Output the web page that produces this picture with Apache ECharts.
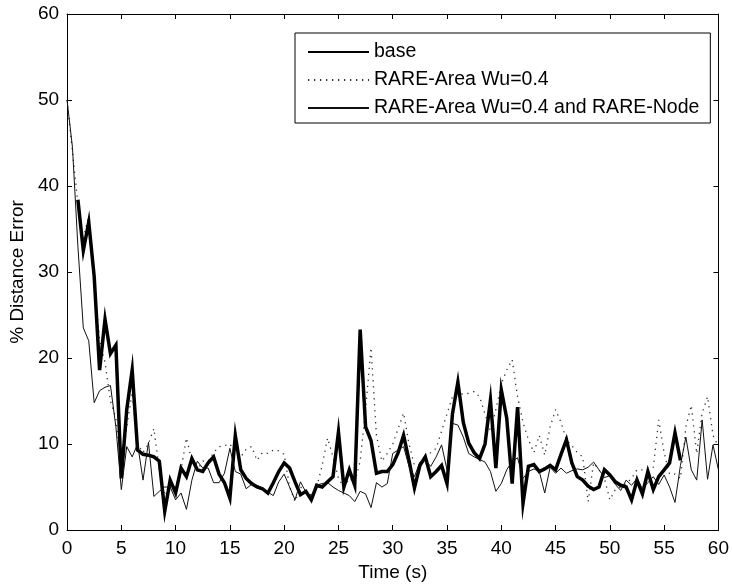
<!DOCTYPE html>
<html>
<head>
<meta charset="utf-8">
<script src="https://cdn.jsdelivr.net/npm/echarts@6/dist/echarts.min.js"></script>
<style>
  html, body { margin: 0; padding: 0; background: #fff; }
  #chart { width: 732px; height: 587px; }
</style>
</head>
<body>
<div id="chart"></div>
<script>
// Sample times (s)
const time = [
  0, 0.5, 1, 1.5, 2, 2.5, 3, 3.5, 4, 4.5,
  5, 5.5, 6, 6.5, 7, 7.5, 8, 8.5, 9, 9.5,
  10, 10.5, 11, 11.5, 12, 12.5, 13, 13.5, 14, 14.5,
  15, 15.5, 16, 16.5, 17, 17.5, 18, 18.5, 19, 19.5,
  20, 20.5, 21, 21.5, 22, 22.5, 23, 23.5, 24, 24.5,
  25, 25.5, 26, 26.5, 27, 27.5, 28, 28.5, 29, 29.5,
  30, 30.5, 31, 31.5, 32, 32.5, 33, 33.5, 34, 34.5,
  35, 35.5, 36, 36.5, 37, 37.5, 38, 38.5, 39, 39.5,
  40, 40.5, 41, 41.5, 42, 42.5, 43, 43.5, 44, 44.5,
  45, 45.5, 46, 46.5, 47, 47.5, 48, 48.5, 49, 49.5,
  50, 50.5, 51, 51.5, 52, 52.5, 53, 53.5, 54, 54.5,
  55, 55.5, 56, 56.5, 57, 57.5, 58, 58.5, 59, 59.5,
  60
];

// % distance error, base
const base = [
  null, null, 38.4, 32.5, 35.8, 29.5, 18.6, 24.5, 20.5, 21.5,
  6, 14, 18.6, 9.3, 8.8, 8.7, 8.5, 8, 2.2, 5.8,
  4.3, 7.2, 6.2, 8.3, 7, 6.8, 7.8, 8.5, 6.5, 5.5,
  3.7, 11, 7, 6, 5.4, 5, 4.8, 4.3, 5.5, 6.8,
  7.8, 7.2, 5.6, 4.1, 4.5, 3.5, 5.2, 5, 5.6, 6.2,
  11.4, 5, 7, 5.2, 23.3, 12, 10.4, 6.6, 6.8, 6.8,
  7.6, 9, 11, 8.1, 4.9, 7.5, 8.5, 6.2, 6.8, 7.5,
  5.4, 13.5, 17.2, 12.5, 10.1, 9, 8.3, 10, 15.1, 7.2,
  16.3, 13, 5.4, 14.3, 3.1, 7.4, 7.6, 6.8, 7.1, 7.5,
  7, 8.8, 10.5, 7.8, 6.2, 5.8, 5.1, 4.7, 5, 7,
  6.4, 5.6, 5.2, 5, 3.5, 5.8, 4.2, 6.8, 4.7, 6.2,
  7, 7.8, 11.3, 8.1, null, null, null, null, null, null,
  null
];

// % distance error, RARE-Area Wu=0.4
const rareArea = [
  50, 44, 38, 34, 36.5, 29, 22, 19.5, 15, 13,
  7, 12, 16, 10, 9, 10, 11.8, 7, 4, 5,
  5, 7, 10.7, 8, 7, 8, 8, 9, 9.7, 9.8,
  10, 9, 8.5, 9.4, 9.7, 8.1, 9, 8.9, 9.3, 9.2,
  8.8, 5, 3.3, 5, 4.5, 4, 5, 7.5, 10.7, 8.5,
  6, 5, 6, 5.5, 8, 14, 21.2, 11, 8, 8.9,
  10, 11.8, 13.6, 10, 7.5, 7.5, 8.5, 9, 9.5, 11.5,
  13.5, 15.5, 15.9, 15.8, 15.9, 16.1, 15.5, 13.5, 11.5, 14,
  17, 18.6, 19.8, 15.5, 12.5, 10.5, 9, 11, 8.7, 12,
  14, 12.5, 10.5, 9.8, 9, 8.5, 3.3, 7.8, 7, 6,
  3.5, 4.7, 5, 5.4, 6, 7, 7, 7, 7.3, 12.8,
  9, 6.5, 6.5, 6, 12, 14.5, 8.9, 13.6, 15.5, 11,
  9.7
];

// % distance error, RARE-Area Wu=0.4 and RARE-Node
const rareAreaNode = [
  50, 44.5, 33, 23.5, 22, 14.8, 16.2, 16.6, 16.8, 12,
  4.7, 9.7, 8.5, 10, 5.8, 10.2, 3.9, 4.5, 5, 5,
  3.5, 4.3, 2.4, 5.8, 8, 7.2, 7.2, 5.5, 5.5, 6.6,
  9.5, 6.8, 6.5, 4.8, 5.3, 5.2, 4.9, 4.4, 4, 5.6,
  6.5, 5, 3.5, 5.6, 4.4, 4, 5.2, 5.4, 5.5, 5,
  4.6, 4.3, 4, 3.3, 4.5, 4.2, 2.6, 5.5, 5, 5.4,
  8.9, 9.3, 9.7, 7.4, 6.2, 7.9, 8.1, 7.4, 8.5, 9.9,
  7, 12.4, 12.2, 10.8, 8.9, 8.5, 8.2, 7.9, 6.8, 4.5,
  5.4, 7, 8, 8.4, 6, 6.8, 7.1, 6.8, 4.3, 7.3,
  6.6, 7.2, 6.6, 6.9, 7.1, 7, 7.3, 7.9, 7, 6.1,
  6.3, 5.3, 4.6, 5.8, 5.2, 6, 4.8, 5.5, 6.2, 5.3,
  6.4, 5, 3.2, 7.5, 10.8, 7, 5.8, 12.8, 5.9, 9.9,
  7
];

const seriesNames = ['base', 'RARE-Area Wu=0.4', 'RARE-Area Wu=0.4 and RARE-Node'];

const FONT = 'Arial, "Liberation Sans", sans-serif';

function pairs(values) {
  return time.map((t, i) => [t, values[i]]);
}

const chart = echarts.init(document.getElementById('chart'), null, { renderer: 'canvas' });

const boxAxis = {
  axisLine: { show: true, onZero: false, lineStyle: { color: '#000', width: 1 } },
  axisTick: { show: true, inside: true, length: 5, lineStyle: { color: '#000', width: 1 } },
  splitLine: { show: false }
};

chart.setOption({
  animation: false,
  backgroundColor: '#fff',
  textStyle: { fontFamily: FONT },
  grid: { left: 66, right: 11, top: 14, bottom: 57, containLabel: false },
  legend: {
    orient: 'vertical',
    left: 295,
    top: 33,
    data: seriesNames,
    itemWidth: 61,
    itemHeight: 20,
    itemGap: 8,
    padding: [9, 11, 5, 12],
    borderColor: '#000',
    borderWidth: 1,
    backgroundColor: '#fff',
    selectedMode: false,
    // line-only keys: hide the symbol drawn in the middle of each key
    itemStyle: { opacity: 0 },
    textStyle: { fontFamily: FONT, fontSize: 19.5, color: '#000', lineHeight: 20, padding: [0, 0, 0, 0] }
  },
  xAxis: [
    Object.assign({
      type: 'value', position: 'bottom', min: 0, max: 60, interval: 5,
      name: 'Time (s)', nameLocation: 'middle', nameGap: 31,
      nameTextStyle: { fontFamily: FONT, fontSize: 19, color: '#000' },
      axisLabel: { fontFamily: FONT, fontSize: 19, color: '#000', margin: 9 }
    }, boxAxis),
    Object.assign({
      type: 'value', position: 'top', min: 0, max: 60, interval: 5,
      axisLabel: { show: false }
    }, boxAxis)
  ],
  yAxis: [
    Object.assign({
      type: 'value', position: 'left', min: 0, max: 60, interval: 10,
      name: '% Distance Error', nameLocation: 'middle', nameGap: 40,
      nameTextStyle: { fontFamily: FONT, fontSize: 19, color: '#000' },
      axisLabel: { fontFamily: FONT, fontSize: 19, color: '#000', margin: 8 }
    }, boxAxis),
    Object.assign({
      type: 'value', position: 'right', min: 0, max: 60, interval: 10,
      axisLabel: { show: false }
    }, boxAxis)
  ],
  series: [
    {
      name: seriesNames[0], type: 'line', data: pairs(base),
      symbol: 'none', connectNulls: false, z: 3,
      lineStyle: { color: '#000', width: 3.5, join: 'miter' },
      itemStyle: { color: '#000' }
    },
    {
      name: seriesNames[1], type: 'line', data: pairs(rareArea),
      symbol: 'none', z: 2,
      lineStyle: { color: '#333', width: 1.3, type: [1.3, 4.7] },
      itemStyle: { color: '#333' }
    },
    {
      name: seriesNames[2], type: 'line', data: pairs(rareAreaNode),
      symbol: 'none', z: 4,
      lineStyle: { color: '#111', width: 1 },
      itemStyle: { color: '#111' }
    }
  ]
});
</script>
</body>
</html>
